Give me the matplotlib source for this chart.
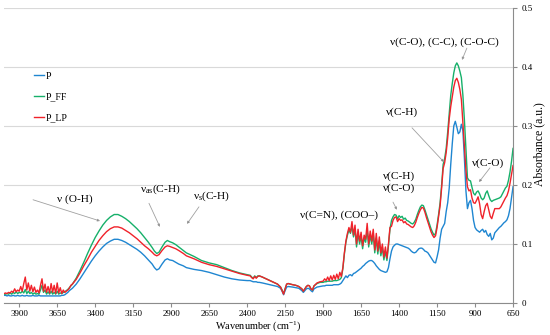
import numpy as np
import matplotlib
matplotlib.use("Agg")
import matplotlib.pyplot as plt
from matplotlib.ticker import FuncFormatter

plt.rcParams["font.family"] = ["Liberation Serif", "DejaVu Serif"]
plt.rcParams["mathtext.fontset"] = "custom"
plt.rcParams["mathtext.rm"] = "Liberation Serif"
plt.rcParams["mathtext.it"] = "Liberation Serif:italic"

# wavenumber grid (cm-1), in four segments
wn_a = np.arange(4000, 3555, -10)
wn_b = [3550, 3525, 3500, 3475, 3450, 3425, 3400, 3375, 3350, 3325,
        3300, 3275, 3250, 3225, 3200, 3175, 3150, 3125, 3100, 3075,
        3050, 3025, 3010, 2995, 2980, 2960, 2940, 2925, 2910, 2890,
        2870, 2850, 2820, 2800, 2750, 2700, 2650, 2600, 2550, 2500,
        2450, 2400, 2380, 2370, 2360, 2350, 2340, 2330, 2320, 2300,
        2250, 2200, 2180, 2170, 2160, 2150, 2140, 2130, 2100, 2080,
        2060, 2040, 2030, 2020, 2010, 2000, 1990, 1980, 1970, 1960,
        1940, 1920]
wn_c = np.arange(1900, 1455, -10)
wn_d = np.arange(1450, 645, -10)

# P (blue)
p_a = [0.013, 0.013, 0.012, 0.013, 0.012, 0.012, 0.013, 0.012, 0.012, 0.013,
       0.012, 0.012, 0.013, 0.012, 0.012, 0.013, 0.012, 0.012, 0.012, 0.013,
       0.012, 0.012, 0.012, 0.013, 0.012, 0.012, 0.012, 0.012, 0.012, 0.012,
       0.012, 0.012, 0.012, 0.012, 0.012, 0.012, 0.012, 0.012, 0.013, 0.013,
       0.014, 0.016, 0.018, 0.021, 0.023]
p_b = [0.025, 0.032, 0.041, 0.051, 0.061, 0.071, 0.080, 0.088, 0.095, 0.101,
       0.105, 0.108, 0.108, 0.106, 0.103, 0.099, 0.095, 0.091, 0.086, 0.080,
       0.073, 0.066, 0.060, 0.056, 0.058, 0.066, 0.073, 0.075, 0.073, 0.072,
       0.069, 0.066, 0.063, 0.060, 0.057, 0.055, 0.052, 0.048, 0.044, 0.041,
       0.039, 0.038, 0.038, 0.037, 0.036, 0.036, 0.036, 0.035, 0.035, 0.034,
       0.031, 0.028, 0.025, 0.020, 0.014, 0.021, 0.027, 0.028, 0.027, 0.026,
       0.025, 0.021, 0.018, 0.021, 0.024, 0.025, 0.024, 0.021, 0.019, 0.024,
       0.027, 0.028]
p_c = [0.029, 0.029, 0.030, 0.030, 0.030, 0.030, 0.030, 0.031, 0.031, 0.031,
       0.031, 0.032, 0.034, 0.038, 0.042, 0.046, 0.043, 0.047, 0.048, 0.046,
       0.050, 0.051, 0.053, 0.055, 0.057, 0.059, 0.062, 0.064, 0.067, 0.069,
       0.071, 0.072, 0.072, 0.070, 0.067, 0.063, 0.060, 0.057, 0.055, 0.054,
       0.053, 0.052, 0.053, 0.060, 0.075]
p_d = [0.088, 0.095, 0.098, 0.100, 0.100, 0.099, 0.098, 0.097, 0.096, 0.095,
       0.094, 0.093, 0.091, 0.088, 0.086, 0.085, 0.086, 0.089, 0.092, 0.093,
       0.093, 0.091, 0.088, 0.087, 0.085, 0.081, 0.077, 0.073, 0.069, 0.068,
       0.078, 0.090, 0.110, 0.125, 0.130, 0.135, 0.155, 0.170, 0.195, 0.235,
       0.270, 0.300, 0.308, 0.298, 0.287, 0.290, 0.303, 0.292, 0.245, 0.190,
       0.160, 0.170, 0.174, 0.160, 0.140, 0.128, 0.124, 0.122, 0.120, 0.123,
       0.125, 0.120, 0.123, 0.116, 0.113, 0.118, 0.107, 0.110, 0.119, 0.122,
       0.125, 0.128, 0.130, 0.133, 0.136, 0.138, 0.141, 0.148, 0.160, 0.178,
       0.197]

# P_FF (green)
ff_a = [0.015, 0.015, 0.016, 0.015, 0.017, 0.015, 0.018, 0.016, 0.019, 0.016,
        0.018, 0.017, 0.020, 0.017, 0.023, 0.016, 0.020, 0.016, 0.018, 0.015,
        0.017, 0.015, 0.016, 0.015, 0.022, 0.030, 0.018, 0.022, 0.015, 0.019,
        0.015, 0.020, 0.015, 0.018, 0.015, 0.020, 0.015, 0.017, 0.016, 0.018,
        0.019, 0.021, 0.023, 0.026, 0.029]
ff_b = [0.032, 0.042, 0.055, 0.069, 0.084, 0.098, 0.111, 0.122, 0.132, 0.140,
        0.146, 0.150, 0.150, 0.147, 0.143, 0.138, 0.132, 0.126, 0.119, 0.111,
        0.103, 0.094, 0.088, 0.084, 0.086, 0.095, 0.103, 0.106, 0.104, 0.102,
        0.099, 0.095, 0.089, 0.085, 0.079, 0.072, 0.068, 0.065, 0.060, 0.055,
        0.051, 0.048, 0.047, 0.044, 0.042, 0.046, 0.043, 0.046, 0.046, 0.044,
        0.038, 0.032, 0.027, 0.022, 0.016, 0.024, 0.032, 0.033, 0.031, 0.030,
        0.028, 0.024, 0.020, 0.024, 0.028, 0.030, 0.029, 0.024, 0.022, 0.029,
        0.033, 0.035]
ff_c = [0.035, 0.036, 0.036, 0.037, 0.037, 0.037, 0.037, 0.038, 0.038, 0.038,
        0.039, 0.040, 0.043, 0.058, 0.083, 0.103, 0.115, 0.124, 0.118, 0.130,
        0.112, 0.125, 0.095, 0.118, 0.100, 0.113, 0.092, 0.110, 0.103, 0.125,
        0.095, 0.115, 0.100, 0.118, 0.085, 0.110, 0.083, 0.105, 0.080, 0.094,
        0.073, 0.088, 0.072, 0.097, 0.125]
ff_d = [0.140, 0.146, 0.150, 0.149, 0.143, 0.148, 0.145, 0.147, 0.142, 0.144,
        0.140, 0.139, 0.137, 0.135, 0.134, 0.137, 0.142, 0.150, 0.157, 0.163,
        0.166, 0.165, 0.158, 0.150, 0.142, 0.134, 0.126, 0.120, 0.115, 0.118,
        0.132, 0.150, 0.170, 0.200, 0.235, 0.245, 0.262, 0.290, 0.322, 0.352,
        0.372, 0.390, 0.402, 0.407, 0.402, 0.393, 0.382, 0.352, 0.310, 0.262,
        0.212, 0.208, 0.207, 0.196, 0.186, 0.183, 0.188, 0.190, 0.185, 0.178,
        0.175, 0.178, 0.186, 0.190, 0.182, 0.175, 0.172, 0.174, 0.175, 0.176,
        0.177, 0.178, 0.180, 0.185, 0.190, 0.195, 0.198, 0.208, 0.222, 0.240,
        0.262]

# P_LP (red)
lp_a = [0.016, 0.017, 0.016, 0.018, 0.017, 0.020, 0.018, 0.024, 0.019, 0.022,
        0.020, 0.028, 0.020, 0.033, 0.044, 0.022, 0.034, 0.020, 0.030, 0.019,
        0.027, 0.018, 0.022, 0.017, 0.030, 0.041, 0.020, 0.032, 0.018, 0.028,
        0.017, 0.033, 0.018, 0.030, 0.016, 0.034, 0.017, 0.026, 0.016, 0.022,
        0.018, 0.020, 0.022, 0.025, 0.030]
lp_b = [0.032, 0.040, 0.051, 0.063, 0.074, 0.086, 0.096, 0.106, 0.114, 0.121,
        0.126, 0.129, 0.129, 0.127, 0.123, 0.119, 0.114, 0.109, 0.103, 0.097,
        0.092, 0.086, 0.082, 0.080, 0.082, 0.089, 0.095, 0.097, 0.096, 0.094,
        0.092, 0.089, 0.084, 0.080, 0.075, 0.069, 0.065, 0.062, 0.058, 0.054,
        0.050, 0.047, 0.046, 0.043, 0.041, 0.045, 0.042, 0.045, 0.046, 0.044,
        0.038, 0.032, 0.027, 0.021, 0.015, 0.024, 0.032, 0.033, 0.031, 0.030,
        0.028, 0.024, 0.020, 0.024, 0.028, 0.030, 0.029, 0.024, 0.022, 0.029,
        0.034, 0.036]
lp_c = [0.037, 0.041, 0.038, 0.044, 0.038, 0.046, 0.039, 0.047, 0.040, 0.049,
        0.041, 0.052, 0.045, 0.060, 0.085, 0.105, 0.118, 0.128, 0.120, 0.138,
        0.115, 0.132, 0.100, 0.125, 0.105, 0.120, 0.097, 0.115, 0.108, 0.135,
        0.100, 0.122, 0.105, 0.125, 0.090, 0.118, 0.088, 0.112, 0.085, 0.100,
        0.078, 0.095, 0.076, 0.100, 0.128]
lp_d = [0.130, 0.140, 0.145, 0.146, 0.138, 0.143, 0.140, 0.141, 0.136, 0.138,
        0.134, 0.133, 0.131, 0.129, 0.128, 0.131, 0.137, 0.145, 0.152, 0.158,
        0.162, 0.161, 0.154, 0.145, 0.137, 0.129, 0.121, 0.115, 0.111, 0.114,
        0.128, 0.146, 0.165, 0.195, 0.228, 0.238, 0.255, 0.280, 0.312, 0.333,
        0.350, 0.366, 0.377, 0.381, 0.374, 0.362, 0.345, 0.305, 0.265, 0.225,
        0.197, 0.190, 0.192, 0.178, 0.170, 0.169, 0.174, 0.180, 0.168, 0.150,
        0.143, 0.155, 0.165, 0.169, 0.158, 0.147, 0.143, 0.152, 0.160, 0.160,
        0.160, 0.160, 0.163, 0.168, 0.173, 0.178, 0.182, 0.190, 0.203, 0.218,
        0.233]

SERIES = [("P", "#1f86d1", p_a + p_b + p_c + p_d),
          ("P_FF", "#16b06a", ff_a + ff_b + ff_c + ff_d),
          ("P_LP", "#f0222a", lp_a + lp_b + lp_c + lp_d)]

# band labels: text, text position, arrow start, arrow tip (data units)
BANDS = [
    ("ν (O-H)", (3533, 0.176), (3809, 0.175), (3368, 0.139)),
    ("ν$_{\\mathrm{as}}$(C-H)", (2974, 0.193), (3046, 0.169), (2974, 0.129)),
    ("ν$_{\\mathrm{s}}$(C-H)", (2631, 0.181), (2717, 0.163), (2796, 0.134)),
    ("ν(C=N), (COO–)", (1796, 0.149), None, None),
    ("ν(C-H)\nν(C-O)", (1401, 0.205), (1440, 0.171), (1414, 0.158)),
    ("ν(C-H)", (1381, 0.324), (1315, 0.297), (1105, 0.239)),
    ("ν(C-O), (C-C), (C-O-C)", (1105, 0.442), (954, 0.432), (986, 0.412)),
    ("ν(C-O)", (815, 0.237), (802, 0.229), (874, 0.205)),
]


def plot_spectra():
    fig = plt.figure(figsize=(5.5, 3.35), dpi=100)
    ax = fig.add_axes([0.0073, 0.0955, 0.9255, 0.8805])
    wn = np.concatenate([wn_a, wn_b, wn_c, wn_d])

    for name, color, values in SERIES:
        ax.plot(wn, values, color=color, lw=1.0, label=name)

    ax.set_xlim(4000, 650)
    ax.set_ylim(0, 0.5)
    ax.set_xticks(np.arange(650, 4000, 250))
    ax.set_yticks(np.arange(0, 0.51, 0.1))
    ax.yaxis.set_major_formatter(FuncFormatter(lambda v, p: "0" if v == 0 else f"{v:.1f}"))
    ax.yaxis.tick_right()
    ax.grid(axis="y", color="#d9d9d9", lw=0.8)
    ax.set_axisbelow(True)

    for side in ["top", "left"]:
        ax.spines[side].set_visible(False)
    for side in ["bottom", "right"]:
        ax.spines[side].set_color("#8c8c8c")
        ax.spines[side].set_linewidth(0.8)
    ax.tick_params(colors="#8c8c8c", labelcolor="black", labelsize=6.5,
                   length=3, width=0.8)
    ax.tick_params(axis="x", pad=2)
    ax.tick_params(axis="y", pad=3.5)

    ax.set_xlabel("Wavenumber (cm$^{-1}$)", fontsize=7.4, labelpad=1)
    ax.set_ylabel("Absorbance (a.u.)", fontsize=8.5, rotation=90)
    ax.yaxis.set_label_coords(1.063, 0.54)

    for text, txy, start, tip in BANDS:
        ax.text(txy[0], txy[1], text, fontsize=8.2, ha="center", va="center",
                linespacing=1.35)
        if start is not None:
            ax.annotate("", xy=tip, xytext=start,
                        arrowprops=dict(arrowstyle="-|>", edgecolor="#a0a0a0",
                                        facecolor="black", lw=0.6,
                                        mutation_scale=3.5, shrinkA=0, shrinkB=0))

    ax.legend(loc="upper left", bbox_to_anchor=(0.05, 0.80), frameon=False,
              fontsize=7, handlelength=1.0, handletextpad=0.15,
              labelspacing=1.2, borderpad=0)

    plt.savefig("out.png", dpi=100)
    plt.close()


plot_spectra()
